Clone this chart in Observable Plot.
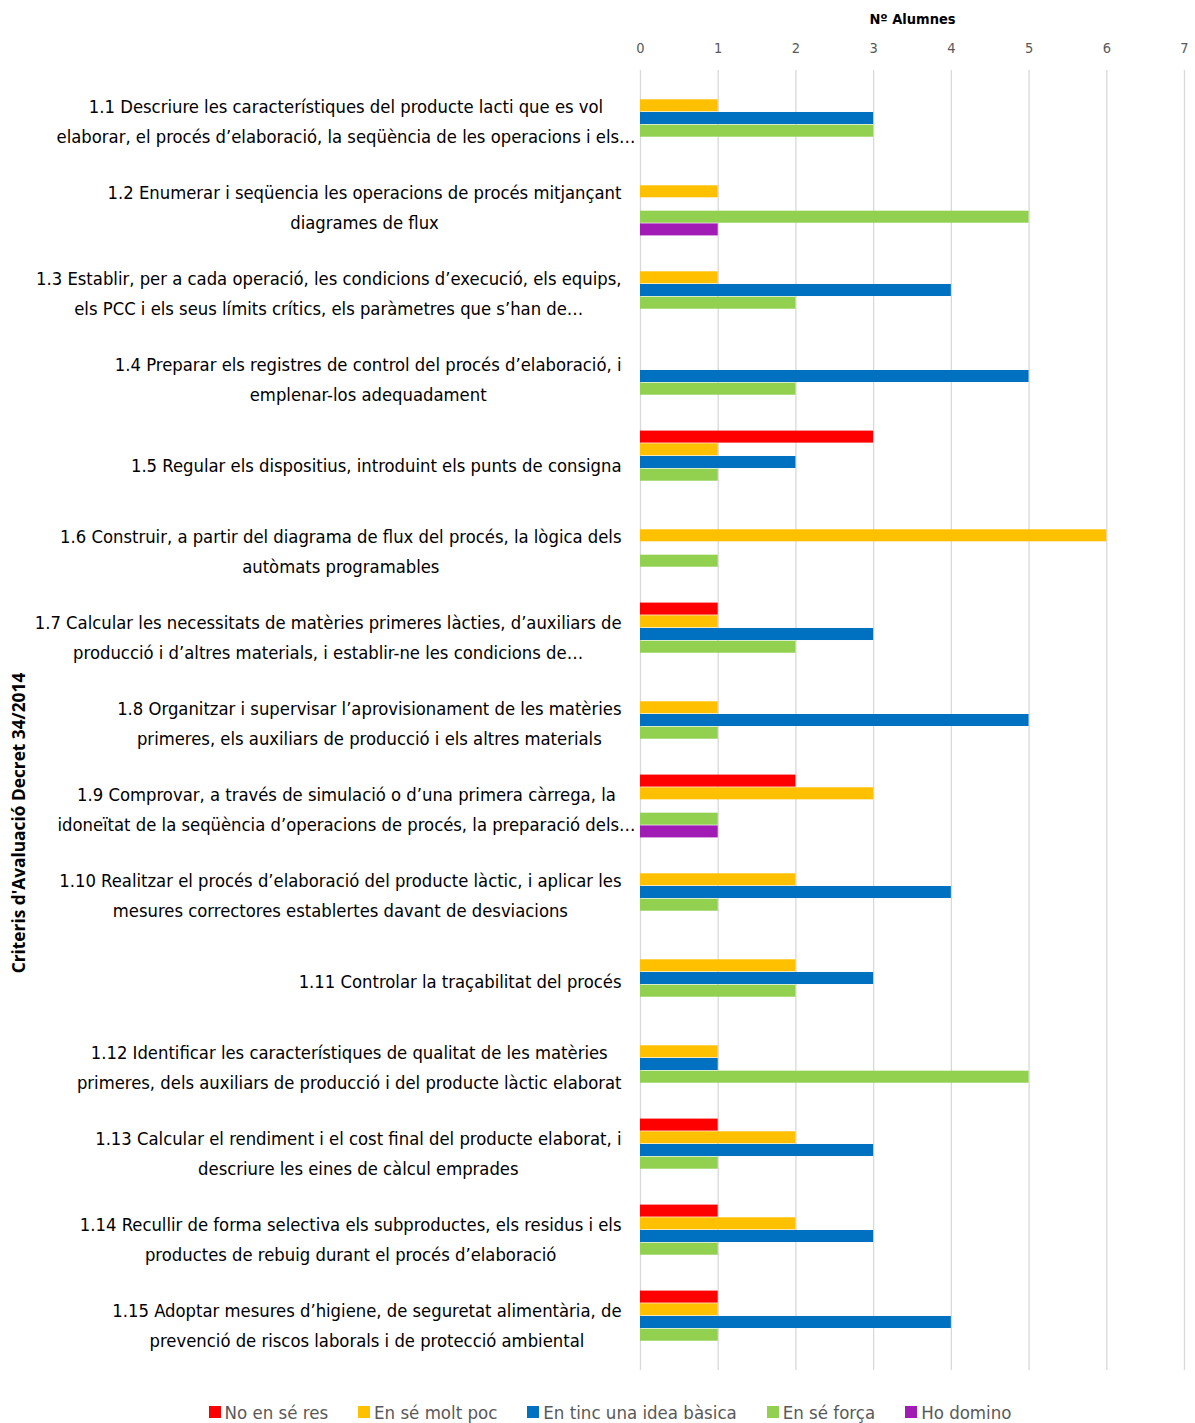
<!DOCTYPE html>
<html><head><meta charset="utf-8">
<script src="https://cdn.jsdelivr.net/npm/d3@7"></script>
<script src="https://cdn.jsdelivr.net/npm/@observablehq/plot@0.6"></script>
<style>
body{margin:0;background:#fff;width:1195px;height:1423px;position:relative;overflow:hidden;font-family:"DejaVu Sans Condensed",sans-serif;}
#ytitle{position:absolute;left:18px;top:823px;transform:translate(-50%,-50%) rotate(-90deg);font-family:"Open Sans",sans-serif;font-weight:bold;font-size:17.3px;white-space:nowrap;color:#000;}
#legend{display:flex;justify-content:center;align-items:center;height:26px;margin-top:4px;padding-left:25px;font-size:18.5px;color:#595959;}
#legend .it{display:flex;align-items:center;margin:0 15px;}
#legend .sw{width:12px;height:12px;margin-right:4px;}
</style></head>
<body>
<div id="chart"></div>
<div id="legend"></div>
<div id="ytitle">Criteris d'Avaluació Decret 34/2014</div>
<script>
const categories = ["1.1","1.2","1.3","1.4","1.5","1.6","1.7","1.8","1.9","1.10","1.11","1.12","1.13","1.14","1.15"];
const labels = [
 "1.1 Descriure les característiques del producte lacti que es vol\nelaborar, el procés d’elaboració, la seqüència de les operacions i els…",
 "1.2 Enumerar i seqüencia les operacions de procés mitjançant\ndiagrames de flux",
 "1.3 Establir, per a cada operació, les condicions d’execució, els equips,\nels PCC i els seus límits crítics, els paràmetres que s’han de…",
 "1.4 Preparar els registres de control del procés d’elaboració, i\nemplenar-los adequadament",
 "1.5 Regular els dispositius, introduint els punts de consigna",
 "1.6 Construir, a partir del diagrama de flux del procés, la lògica dels\nautòmats programables",
 "1.7 Calcular les necessitats de matèries primeres làcties, d’auxiliars de\nproducció i d’altres materials, i establir-ne les condicions de…",
 "1.8 Organitzar i supervisar l’aprovisionament de les matèries\nprimeres, els auxiliars de producció i els altres materials",
 "1.9 Comprovar, a través de simulació o d’una primera càrrega, la\nidoneïtat de la seqüència d’operacions de procés, la preparació dels…",
 "1.10 Realitzar el procés d’elaboració del producte làctic, i aplicar les\nmesures correctores establertes davant de desviacions",
 "1.11 Controlar la traçabilitat del procés",
 "1.12 Identificar les característiques de qualitat de les matèries\nprimeres, dels auxiliars de producció i del producte làctic elaborat",
 "1.13 Calcular el rendiment i el cost final del producte elaborat, i\ndescriure les eines de càlcul emprades",
 "1.14 Recullir de forma selectiva els subproductes, els residus i els\nproductes de rebuig durant el procés d’elaboració",
 "1.15 Adoptar mesures d’higiene, de seguretat alimentària, de\nprevenció de riscos laborals i de protecció ambiental"
];
const series = ["No en sé res","En sé molt poc","En tinc una idea bàsica","En sé força","Ho domino"];
const colors = ["#ff0000","#ffc000","#0070c0","#92d050","#a11bb5"];
const noEnSeRes      = [0,0,0,0,3,0,1,0,2,0,0,0,1,1,1];
const enSeMoltPoc    = [1,1,1,0,1,6,1,1,3,2,2,1,2,2,1];
const ideaBasica     = [3,0,4,5,2,0,3,5,0,4,3,1,3,3,4];
const enSeForca      = [3,5,2,2,1,1,2,1,1,1,2,5,1,1,1];
const hoDomino       = [0,1,0,0,0,0,0,0,1,0,0,0,0,0,0];
const values = [noEnSeRes, enSeMoltPoc, ideaBasica, enSeForca, hoDomino];
const xTicks = [0,1,2,3,4,5,6,7];

const FONT = '"DejaVu Sans Condensed",sans-serif';
const LABEL_SIZE = 18.3;
const W = 1195, H = 1395, mt = 70, mb = 25, ml = 640, mr = 11;
const step = (H - mt - mb) / categories.length;
const bh = step * 0.1465;
const inset = (step - bh) / 2;

const ctx = document.createElement("canvas").getContext("2d");
ctx.font = `${LABEL_SIZE}px ${FONT}`;

const marks = [Plot.gridX(xTicks, {stroke: "#d9d9d9", strokeOpacity: 1, strokeWidth: 1.3})];
series.forEach((s, k) => {
  const data = categories.map((c, i) => ({cat: c, v: values[k][i]})).filter(d => d.v > 0);
  marks.push(Plot.barX(data, {x: "v", y: "cat", fill: colors[k], dy: (k - 2) * bh, insetTop: inset, insetBottom: inset}));
});
categories.forEach((c, i) => {
  const lines = labels[i].split("\n");
  const widths = lines.map(l => ctx.measureText(l).width);
  const maxW = Math.max(...widths);
  const longest = lines[widths.indexOf(maxW)];
  const right = longest.endsWith("…") ? 635 : 621;
  const center = right - maxW / 2;
  marks.push(Plot.text([c], {y: d => d, frameAnchor: "left", text: () => labels[i], textAnchor: "middle", dx: center - ml, lineHeight: 30 / LABEL_SIZE, fontSize: LABEL_SIZE, fill: "#000"}));
});
marks.push(Plot.axisX(xTicks, {anchor: "top", tickSize: 0, tickPadding: 18, fontSize: 14.5, color: "#595959", label: null}));
marks.push(Plot.text(["Nº Alumnes"], {frameAnchor: "top", dy: -57, text: d => d, fontWeight: "bold", fontSize: 14.5, fill: "#000"}));

const chart = Plot.plot({
  width: W, height: H,
  marginTop: mt, marginBottom: mb, marginLeft: ml, marginRight: mr,
  style: {fontFamily: FONT, background: "#fff"},
  x: {domain: [0, 7]},
  y: {domain: categories, padding: 0, axis: null},
  marks
});
document.getElementById("chart").appendChild(chart);

const leg = document.getElementById("legend");
series.forEach((s, k) => {
  const it = document.createElement("div"); it.className = "it";
  const sw = document.createElement("span"); sw.className = "sw"; sw.style.background = colors[k];
  const t = document.createElement("span"); t.textContent = s;
  it.appendChild(sw); it.appendChild(t); leg.appendChild(it);
});
</script>
</body></html>
